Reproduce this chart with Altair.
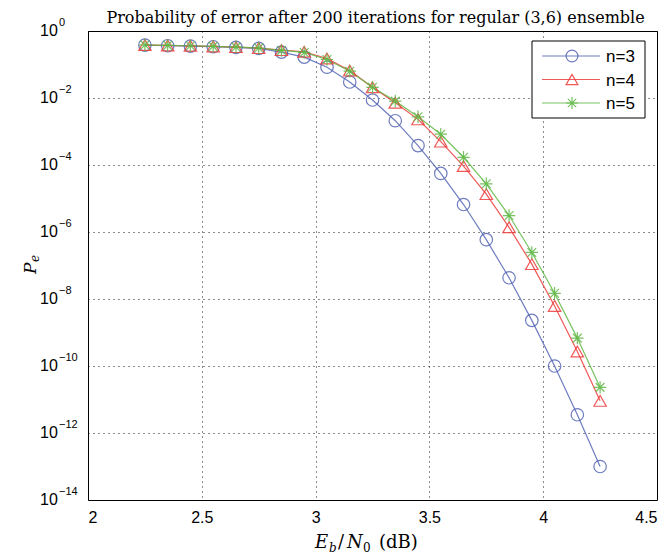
import altair as alt
import pandas as pd

# ---------------- data ----------------
ebn0 = [2.25, 2.35, 2.45, 2.55, 2.65, 2.75, 2.85, 2.95, 3.05, 3.15, 3.25,
        3.35, 3.45, 3.55, 3.65, 3.75, 3.85, 3.95, 4.05, 4.15, 4.25]
pe_n3 = [0.38, 0.363, 0.355, 0.339, 0.324, 0.302, 0.234, 0.166, 0.083, 0.030,
         8.7e-3, 2.1e-3, 3.8e-4, 5.6e-5, 6.6e-6, 5.9e-7, 4.3e-8, 2.3e-9,
         1.0e-10, 3.5e-12, 1.0e-13]
pe_n4 = [0.38, 0.372, 0.363, 0.347, 0.331, 0.309, 0.269, 0.240, 0.151, 0.066,
         0.0209, 7.2e-3, 2.3e-3, 5.0e-4, 9.3e-5, 1.35e-5, 1.38e-6, 1.1e-7,
         6.2e-9, 2.7e-10, 9.1e-12]
pe_n5 = [0.38, 0.372, 0.363, 0.347, 0.331, 0.309, 0.263, 0.229, 0.141, 0.063,
         0.0209, 8.1e-3, 2.75e-3, 8.3e-4, 1.7e-4, 2.75e-5, 3.1e-6, 2.45e-7,
         1.48e-8, 6.8e-10, 2.3e-11]
series = ["n=3", "n=4", "n=5"]

x_ticks = [2, 2.5, 3, 3.5, 4, 4.5]
y_tick_exp = [0, -2, -4, -6, -8, -10, -12, -14]
y_tick_exp_text = ["0", "\u22122", "\u22124", "\u22126", "\u22128", "\u221210", "\u221212", "\u221214"]

title_text = "Probability of error after 200 iterations for regular (3,6) ensemble"

# ---------------- styles ----------------
colors = ["#5566b5", "#ef3b3b", "#5fb845"]
asterisk = "M0,-1L0,1M-1,0L1,0M-0.7,-0.7L0.7,0.7M-0.7,0.7L0.7,-0.7"
shapes = ["circle", "triangle-up", asterisk]
W, H = 569, 469
SANS = "Liberation Sans"
SERIF = "DejaVu Serif"

rows = []
for name, vals in zip(series, [pe_n3, pe_n4, pe_n5]):
    for x, y in zip(ebn0, vals):
        rows.append({"ebn0": x, "pe": y, "series": name})
df = pd.DataFrame(rows)

xscale = alt.Scale(domain=[2, 4.5], nice=False, zero=False)
yscale = alt.Scale(type="log", domain=[1e-14, 1], nice=False)

X = alt.X("ebn0:Q", scale=xscale,
          axis=alt.Axis(values=x_ticks, format="~g", title=None, ticks=False,
                        domain=False, grid=True, gridDash=[1, 4], gridColor="black",
                        gridOpacity=0.9, labelFont=SANS, labelFontSize=16,
                        labelColor="black", labelPadding=9))
Y = alt.Y("pe:Q", scale=yscale,
          axis=alt.Axis(values=[10.0 ** e for e in y_tick_exp], labels=False,
                        ticks=False, domain=False, title=None, grid=True,
                        gridDash=[1, 4], gridColor="black", gridOpacity=0.9))
color = alt.Color("series:N", scale=alt.Scale(domain=series, range=colors), legend=None)
shape = alt.Shape("series:N", scale=alt.Scale(domain=series, range=shapes), legend=None)

base = alt.Chart(df)
lines = base.mark_line(strokeWidth=1.2, opacity=0.85).encode(x=X, y=Y, color=color)
points = base.mark_point(filled=False, size=155, strokeWidth=1.2, opacity=0.85).encode(
    x=X, y=Y, color=color, shape=shape)

# y tick labels as 10 with superscript exponent
tick_df = pd.DataFrame({"e": y_tick_exp, "etxt": y_tick_exp_text})
tick_base = alt.Chart(tick_df).transform_calculate(v="pow(10, datum.e)")
ten = tick_base.mark_text(align="left", baseline="middle", font=SANS, fontSize=16,
                          color="black").encode(
    x=alt.value(-48), y=alt.Y("v:Q", scale=yscale), text=alt.value("10"))
expo = tick_base.mark_text(align="left", baseline="middle", font=SANS, fontSize=11,
                           color="black", dy=-8).encode(
    x=alt.value(-29), y=alt.Y("v:Q", scale=yscale), text="etxt:N")

one = pd.DataFrame({"a": [0]})
def txt(s, x, y, size, style="italic", angle=0, font=SERIF, align="left"):
    return alt.Chart(one).mark_text(align=align, baseline="alphabetic", font=font,
                                    fontSize=size, fontStyle=style, angle=angle,
                                    color="black").encode(
        x=alt.value(x), y=alt.value(y), text=alt.value(s))

title = txt(title_text, W / 2 + 3, -8, 16, "normal", align="center")

yb = H + 48
xlabel = [txt("E", 227, yb, 18), txt("b", 241, yb + 4, 12),
          txt("/", 250, yb, 18, "normal"), txt("N", 259, yb, 18),
          txt("0", 275, yb + 4, 12, "normal"), txt("(dB)", 291, yb, 18, "normal")]
ylabel = [txt("P", -52, 243, 17, angle=270), txt("e", -49, 231, 12, angle=270)]

# legend box
legend_layers = [alt.Chart(one).mark_rect(fill="white", stroke="black", strokeWidth=1).encode(
    x=alt.value(444), x2=alt.value(557), y=alt.value(10), y2=alt.value(87))]
for i, (name, c, s) in enumerate(zip(series, colors, shapes)):
    ly = 25 + 23.5 * i
    d = pd.DataFrame({"series": [name]})
    legend_layers.append(alt.Chart(d).mark_rule(color=c, strokeWidth=1.2, opacity=0.85).encode(
        x=alt.value(454), x2=alt.value(512), y=alt.value(ly)))
    legend_layers.append(alt.Chart(d).mark_point(shape=s, filled=False, size=140, color=c,
                                                 strokeWidth=1.2, opacity=0.85).encode(
        x=alt.value(484), y=alt.value(ly)))
    legend_layers.append(alt.Chart(d).mark_text(align="left", baseline="middle", font=SANS,
                                                fontSize=17, color="black").encode(
        x=alt.value(518), y=alt.value(ly + 1), text="series:N"))

chart = alt.layer(lines, points, ten, expo, title, *xlabel, *ylabel, *legend_layers).properties(
    width=W, height=H,
    autosize=alt.AutoSizeParams(type="none"),
    padding={"left": 80, "top": 23, "right": 5, "bottom": 58},
    background="white",
).configure_view(stroke="black", strokeWidth=1)

chart.save("out.html", embed_options={"renderer": "svg", "actions": False})
